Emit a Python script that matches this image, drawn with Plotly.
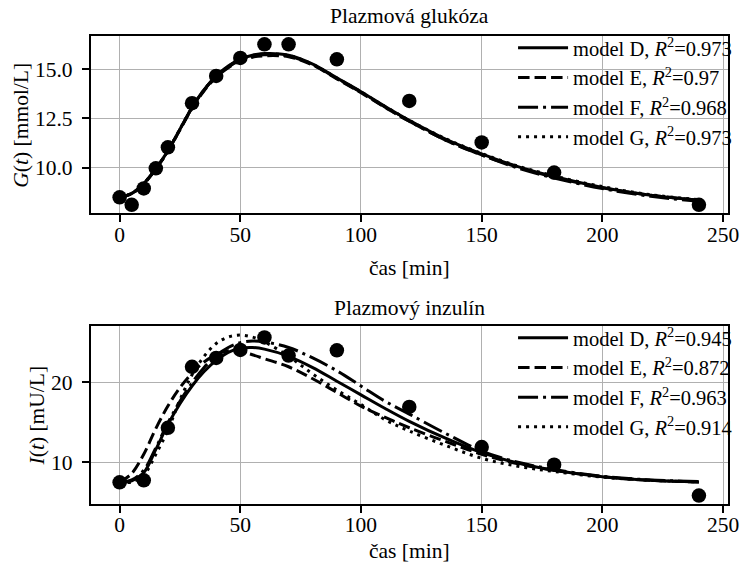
import plotly.graph_objects as go

# ---------------- data ----------------
t_data_G = [0, 5, 10, 15, 20, 30, 40, 50, 60, 70, 90, 120, 150, 180, 240]
G_data = [8.5, 8.12, 8.95, 9.97, 11.03, 13.27, 14.65, 15.56, 16.25, 16.25, 15.49, 13.38, 11.28, 9.75, 8.12]

t_data_I = [0, 10, 20, 30, 40, 50, 60, 70, 90, 120, 150, 180, 240]
I_data = [7.5, 7.75, 14.3, 21.9, 23.0, 24.0, 25.55, 23.3, 23.95, 16.9, 11.9, 9.7, 5.85]

t_model = [0, 5, 10, 15, 20, 25, 30, 35, 40, 45, 50, 55, 60, 70, 80, 90, 100, 110, 120, 135, 150, 165, 180, 200, 220, 240]

G_model_D = [8.5, 8.7, 9.2, 9.95, 10.85, 11.95, 13.05, 13.95, 14.65, 15.15, 15.5, 15.7, 15.78, 15.7, 15.25, 14.55, 13.85, 13.1, 12.4, 11.45, 10.7, 10.05, 9.55, 9.0, 8.6, 8.35]
G_model_E = [8.5, 8.68, 9.18, 9.93, 10.83, 11.92, 13.0, 13.9, 14.58, 15.07, 15.4, 15.6, 15.67, 15.62, 15.2, 14.5, 13.8, 13.05, 12.35, 11.4, 10.65, 10.02, 9.52, 8.98, 8.6, 8.36]
G_model_F = [8.5, 8.69, 9.19, 9.94, 10.84, 11.94, 13.03, 13.93, 14.62, 15.1, 15.45, 15.65, 15.72, 15.66, 15.22, 14.52, 13.82, 13.07, 12.36, 11.4, 10.64, 9.98, 9.48, 8.94, 8.55, 8.3]
G_model_G = [8.5, 8.7, 9.2, 9.95, 10.86, 11.96, 13.05, 13.95, 14.64, 15.13, 15.48, 15.68, 15.76, 15.69, 15.24, 14.54, 13.84, 13.1, 12.4, 11.47, 10.72, 10.08, 9.58, 9.04, 8.63, 8.38]

I_model_D = [7.5, 7.7, 8.7, 11.6, 14.7, 17.3, 19.5, 21.3, 22.7, 23.7, 24.2, 24.3, 24.1, 23.2, 21.8, 20.1, 18.4, 16.7, 15.1, 13.0, 11.2, 9.9, 9.0, 8.2, 7.75, 7.55]
I_model_E = [7.5, 8.6, 11.0, 14.2, 17.0, 19.3, 21.1, 22.5, 23.4, 23.9, 23.8, 23.4, 22.9, 21.9, 20.4, 18.7, 17.0, 15.6, 14.3, 12.6, 11.0, 9.8, 9.0, 8.2, 7.75, 7.55]
I_model_F = [7.5, 7.8, 9.0, 11.8, 14.9, 17.6, 19.9, 21.8, 23.3, 24.3, 24.9, 25.1, 25.0, 24.3, 23.0, 21.4, 19.5, 17.6, 16.0, 13.6, 11.4, 10.0, 9.1, 8.25, 7.8, 7.6]
I_model_G = [7.5, 7.55, 8.4, 11.0, 14.0, 17.8, 20.9, 23.2, 24.8, 25.6, 25.85, 25.6, 25.0, 23.2, 21.0, 19.0, 17.2, 15.3, 13.9, 12.1, 10.5, 9.5, 8.85, 8.15, 7.75, 7.55]

model_names = ["D", "E", "F", "G"]
R2_G = ["0.973", "0.97", "0.968", "0.973"]
R2_I = ["0.945", "0.872", "0.963", "0.914"]

x_ticks = [0, 50, 100, 150, 200, 250]
yG_ticks = [10.0, 12.5, 15.0]
yI_ticks = [10, 20]

# ---------------- styling ----------------
FONT = "Liberation Serif"
FS = 21.5
W, H = 752, 566
dashes = ["solid", "11.5px,5px", "20px,5px,3px,5px", "3px,5px"]
LW = 3

def px_x(p):
    return p / W

def px_y(p):
    return 1 - p / H

fig = go.Figure()

G_models = [G_model_D, G_model_E, G_model_F, G_model_G]
I_models = [I_model_D, I_model_E, I_model_F, I_model_G]

for name, vals, r2, d in zip(model_names, G_models, R2_G, dashes):
    fig.add_trace(go.Scatter(
        x=t_model, y=vals, mode="lines", line=dict(color="black", width=LW, dash=d, shape="spline"),
        name=f"model {name}, <i>R</i><sup>2</sup>=" + r2, xaxis="x", yaxis="y", legend="legend"))
fig.add_trace(go.Scatter(x=t_data_G, y=G_data, mode="markers",
                         marker=dict(color="black", size=14.5), showlegend=False,
                         xaxis="x", yaxis="y"))

for name, vals, r2, d in zip(model_names, I_models, R2_I, dashes):
    fig.add_trace(go.Scatter(
        x=t_model, y=vals, mode="lines", line=dict(color="black", width=LW, dash=d, shape="spline"),
        name=f"model {name}, <i>R</i><sup>2</sup>=" + r2, xaxis="x2", yaxis="y2", legend="legend2"))
fig.add_trace(go.Scatter(x=t_data_I, y=I_data, mode="markers",
                         marker=dict(color="black", size=14.5), showlegend=False,
                         xaxis="x2", yaxis="y2"))

xdom = [px_x(92), px_x(738.7)]
top_dom = [px_y(213), px_y(36)]
bot_dom = [px_y(503.7), px_y(326.3)]

axis_common = dict(showline=True, linecolor="black", linewidth=1.6, mirror=True,
                   ticks="outside", ticklen=7, tickwidth=1.6, tickcolor="black",
                   showgrid=True, gridcolor="#b0b0b0", gridwidth=1, zeroline=False,
                   tickfont=dict(family=FONT, size=FS, color="black"))

fig.update_layout(
    width=W, height=H, margin=dict(l=0, r=0, t=0, b=0),
    paper_bgcolor="white", plot_bgcolor="white",
    font=dict(family=FONT, size=FS, color="black"),
    xaxis=dict(domain=xdom, range=[-12, 252], tickvals=x_ticks, anchor="y", ticklabelstandoff=-6, **axis_common),
    yaxis=dict(domain=top_dom, range=[7.703, 16.673], tickvals=yG_ticks, tickformat=".1f", anchor="x", ticklabelstandoff=5, **axis_common),
    xaxis2=dict(domain=xdom, range=[-12, 252], tickvals=x_ticks, anchor="y2", ticklabelstandoff=-6, **axis_common),
    yaxis2=dict(domain=bot_dom, range=[4.84, 26.94], tickvals=yI_ticks, anchor="x2", ticklabelstandoff=5, **axis_common),
    legend=dict(x=px_x(748), y=px_y(28), xanchor="right", yanchor="top", bgcolor="rgba(0,0,0,0)",
                borderwidth=0, font=dict(family=FONT, size=20.5), itemwidth=50, tracegroupgap=0),
    legend2=dict(x=px_x(748), y=px_y(318), xanchor="right", yanchor="top", bgcolor="rgba(0,0,0,0)",
                 borderwidth=0, font=dict(family=FONT, size=20.5), itemwidth=50, tracegroupgap=0),
    showlegend=True,
)

annots = [
    dict(text="Plazmová glukóza", x=px_x(415.4), y=px_y(16)),
    dict(text="čas [min]", x=px_x(415.4), y=px_y(268)),
    dict(text="Plazmový inzulín", x=px_x(415.4), y=px_y(308)),
    dict(text="čas [min]", x=px_x(415.4), y=px_y(551)),
    dict(text="<i>G</i>(<i>t</i>) [mmol/L]", x=px_x(21), y=px_y(125), textangle=-90),
    dict(text="<i>I</i>(<i>t</i>) [mU/L]", x=px_x(38), y=px_y(415), textangle=-90),
]
for a in annots:
    fig.add_annotation(xref="paper", yref="paper", showarrow=False, xanchor="center", yanchor="middle",
                       font=dict(family=FONT, size=FS, color="black"), **a)

fig.write_html("out.html")
